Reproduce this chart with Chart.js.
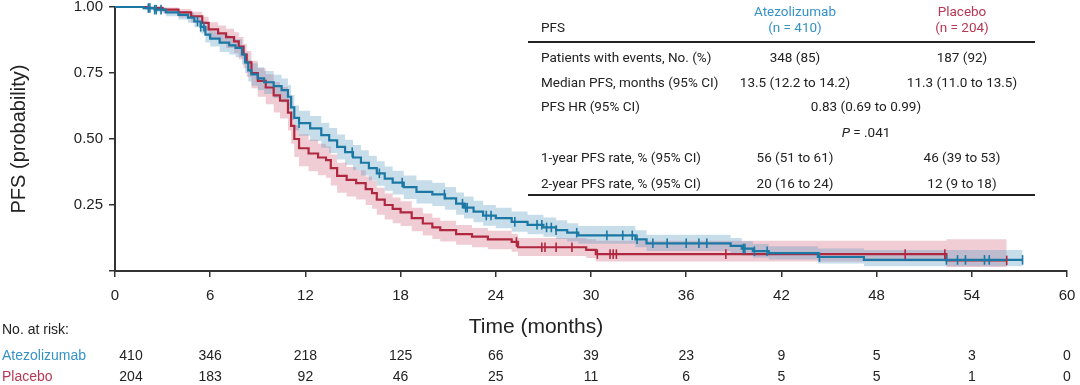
<!DOCTYPE html>
<html>
<head>
<meta charset="utf-8">
<script src="https://cdn.jsdelivr.net/npm/chart.js@4"></script>
<style>
html, body { margin: 0; padding: 0; background: #fff; }
#wrap { position: relative; width: 1080px; height: 385px; font-family: "Liberation Sans", Arial, sans-serif; color: #222; overflow: hidden; }
canvas { position: absolute; left: 0; top: 0; }
.t { position: absolute; white-space: nowrap; font-size: 14px; line-height: 16px; }
.c { transform: translateX(-50%); }
.tab { font-family: Roboto, "Liberation Sans", Arial, sans-serif; font-size: 13.5px; }
.big { font-size: 21px; line-height: 24px; }
.rule { position: absolute; height: 2px; background: #222; }
.blue { color: #3592c4; }
.red { color: #b63853; }
</style>
</head>
<body>
<div id="wrap"><canvas id="km" width="1080" height="385"></canvas></div>
<script>
// Kaplan-Meier PFS: Atezolizumab vs Placebo, with 95% CI bands, censor ticks and at-risk table.

const BLUE = '#1b78a4';
const RED = '#b0283f';
const BLUE_BAND = 'rgba(80,150,190,0.32)';
const RED_BAND = 'rgba(205,90,115,0.30)';

// step times (months) and survival after each step
const atezoT = [0, 1.8, 2.5, 3.2, 4.0, 4.6, 5.0, 5.4, 5.7, 6.0, 6.6, 7.2, 7.6, 8.0, 8.2, 8.4, 8.6, 9.0, 9.4, 10.0,
  10.5, 10.9, 11.1, 11.3, 11.6, 12.3, 13.0, 13.5, 14.0, 14.5, 15.0, 15.5, 16.0, 16.5, 17.0, 17.5, 18.2, 19.0, 20.0, 20.8,
  21.5, 22.0, 22.6, 23.2, 24.0, 25.0, 26.0, 27.0, 27.8, 28.5, 29.2, 32.8, 33.5, 38.8, 39.5, 40.2, 41.2, 44.3, 47.2, 57.2];
const atezoS = [1.0, 0.996, 0.99, 0.98, 0.97, 0.96, 0.945, 0.925, 0.895, 0.88, 0.865, 0.855, 0.845, 0.82, 0.79, 0.76, 0.745, 0.73, 0.715, 0.70,
  0.685, 0.66, 0.62, 0.58, 0.56, 0.54, 0.515, 0.495, 0.47, 0.45, 0.43, 0.41, 0.39, 0.37, 0.35, 0.335, 0.318, 0.30, 0.29, 0.275,
  0.255, 0.24, 0.225, 0.21, 0.20, 0.186, 0.175, 0.165, 0.155, 0.145, 0.135, 0.12, 0.105, 0.095, 0.085, 0.075, 0.068, 0.053, 0.042, 0.042];
const atezoLo = [1.0, 0.99, 0.98, 0.965, 0.953, 0.94, 0.923, 0.9, 0.866, 0.85, 0.83, 0.82, 0.81, 0.782, 0.75, 0.718, 0.702, 0.686, 0.67, 0.655,
  0.638, 0.612, 0.572, 0.532, 0.512, 0.492, 0.467, 0.447, 0.422, 0.402, 0.382, 0.362, 0.343, 0.323, 0.304, 0.29, 0.273, 0.256, 0.246, 0.232,
  0.213, 0.199, 0.185, 0.171, 0.162, 0.149, 0.139, 0.13, 0.121, 0.112, 0.103, 0.09, 0.076, 0.068, 0.059, 0.05, 0.044, 0.028, 0.018, 0.018];
const atezoHi = [1.0, 1.0, 0.998, 0.992, 0.985, 0.978, 0.965, 0.948, 0.922, 0.908, 0.895, 0.887, 0.878, 0.856, 0.828, 0.8, 0.787, 0.772, 0.758, 0.743,
  0.729, 0.705, 0.666, 0.627, 0.607, 0.587, 0.562, 0.542, 0.517, 0.497, 0.477, 0.457, 0.437, 0.416, 0.396, 0.38, 0.362, 0.344, 0.334, 0.318,
  0.297, 0.282, 0.266, 0.25, 0.24, 0.225, 0.213, 0.203, 0.192, 0.181, 0.17, 0.154, 0.137, 0.125, 0.113, 0.102, 0.094, 0.085, 0.08, 0.08];
const atezoCens = [2.1, 2.2, 2.5, 2.6, 2.9, 5.2, 5.4, 5.6, 11.6, 14.95, 16.66, 18.1, 20.76, 21.9, 22.1, 22.2, 23.4, 23.7, 25.2, 26.6,
  26.9, 27.2, 27.5, 27.8, 29.1, 31.0, 32.0, 32.6, 32.9, 33.9, 34.8, 36.0, 36.8, 37.3, 39.6, 39.7, 40.3, 41.1, 44.4, 52.4,
  53.1, 53.6, 54.8, 55.1, 57.2];

const placeboT = [0, 2.0, 3.0, 4.0, 4.8, 5.5, 5.9, 6.5, 7.0, 7.5, 7.8, 8.1, 8.3, 8.6, 9.0, 9.5, 10.0, 10.4, 10.9, 11.1,
  11.3, 11.6, 12.2, 12.8, 13.3, 13.6, 14.0, 14.6, 15.2, 15.8, 16.2, 16.5, 17.0, 17.5, 18.0, 18.7, 19.4, 20.0, 20.5, 21.5,
  22.5, 23.5, 25.0, 25.4, 29.7, 30.3, 52.4, 56.2];
const placeboS = [1.0, 0.997, 0.99, 0.98, 0.965, 0.94, 0.915, 0.90, 0.886, 0.87, 0.85, 0.82, 0.79, 0.75, 0.72, 0.695, 0.665, 0.645, 0.60, 0.55,
  0.50, 0.465, 0.445, 0.43, 0.42, 0.39, 0.36, 0.345, 0.333, 0.31, 0.295, 0.27, 0.25, 0.235, 0.222, 0.20, 0.18, 0.165, 0.155, 0.14,
  0.13, 0.12, 0.11, 0.09, 0.08, 0.064, 0.04, 0.04];
const placeboLo = [1.0, 0.99, 0.976, 0.96, 0.94, 0.91, 0.88, 0.862, 0.845, 0.825, 0.802, 0.768, 0.735, 0.692, 0.66, 0.632, 0.6, 0.578, 0.532, 0.482,
  0.432, 0.397, 0.378, 0.363, 0.353, 0.324, 0.296, 0.282, 0.271, 0.25, 0.236, 0.213, 0.195, 0.181, 0.17, 0.151, 0.134, 0.121, 0.112, 0.099,
  0.09, 0.082, 0.073, 0.057, 0.049, 0.036, 0.015, 0.015];
const placeboHi = [1.0, 1.0, 0.998, 0.992, 0.982, 0.963, 0.942, 0.93, 0.918, 0.904, 0.886, 0.86, 0.833, 0.796, 0.768, 0.745, 0.716, 0.698, 0.654, 0.605,
  0.553, 0.518, 0.497, 0.482, 0.472, 0.441, 0.41, 0.394, 0.382, 0.358, 0.342, 0.315, 0.294, 0.278, 0.264, 0.24, 0.218, 0.202, 0.19, 0.174,
  0.163, 0.152, 0.14, 0.125, 0.12, 0.115, 0.12, 0.12];
const placeboCens = [25.3, 26.9, 27.1, 27.8, 28.8, 30.4, 31.2, 31.4, 31.6, 38.5, 49.8, 52.3, 56.2];

const xTicks = [0, 6, 12, 18, 24, 30, 36, 42, 48, 54, 60];
const yTicks = [0, 0.25, 0.5, 0.75, 1.0];

// at-risk table
const riskTimes = [0, 6, 12, 18, 24, 30, 36, 42, 48, 54, 60];
const atezoRisk = [410, 346, 218, 125, 66, 39, 23, 9, 5, 3, 0];
const placeboRisk = [204, 183, 92, 46, 25, 11, 6, 5, 5, 1, 0];

// summary table
const tableHead = ['PFS', 'Atezolizumab', '(n = 410)', 'Placebo', '(n = 204)'];
const tableLabels = ['Patients with events, No. (%)', 'Median PFS, months (95% CI)', 'PFS HR (95% CI)', '',
  '1-year PFS rate, % (95% CI)', '2-year PFS rate, % (95% CI)'];
const tableAtezo = ['348 (85)', '13.5 (12.2 to 14.2)', null, null, '56 (51 to 61)', '20 (16 to 24)'];
const tablePlacebo = ['187 (92)', '11.3 (11.0 to 13.5)', null, null, '46 (39 to 53)', '12 (9 to 18)'];
const tableSpan = [null, null, '0.83 (0.69 to 0.99)', '<i>P</i> = .041', null, null];

const pts = (xs, ys) => xs.map((x, i) => ({ x, y: ys[i] }));
function survAt(ts, ss, t) {
  let v = ss[0];
  for (let i = 0; i < ts.length; i++) if (ts[i] <= t) v = ss[i];
  return v;
}
const censPts = (cs, ts, ss) => cs.map((t) => ({ x: t, y: survAt(ts, ss, t) }));

const bandSet = (data, color, fill, order) => ({
  data, stepped: true, borderWidth: 0, pointRadius: 0, backgroundColor: color, fill, order, clip: 6,
});
const lineSet = (data, color, order) => ({
  data, stepped: true, borderColor: color, borderWidth: 2.2, pointRadius: 0, fill: false, order, clip: 6,
});
const censSet = (data, color) => ({
  data, showLine: false, pointStyle: 'line', rotation: 90, pointRadius: 4.8, pointBorderWidth: 1.6,
  pointBorderColor: color, borderColor: color, order: 0, clip: 8,
});

const FONT = '"Liberation Sans", Arial, sans-serif';
Chart.defaults.font.family = FONT;
Chart.defaults.color = '#222';

const chart = new Chart(document.getElementById('km'), {
  type: 'line',
  data: {
    datasets: [
      bandSet(pts(placeboT, placeboHi), RED_BAND, '+1', 5),
      bandSet(pts(placeboT, placeboLo), 'transparent', false, 5),
      bandSet(pts(atezoT, atezoHi), BLUE_BAND, '+1', 4),
      bandSet(pts(atezoT, atezoLo), 'transparent', false, 4),
      lineSet(pts(placeboT, placeboS), RED, 2),
      lineSet(pts(atezoT, atezoS), BLUE, 1),
      censSet(censPts(placeboCens, placeboT, placeboS), RED),
      censSet(censPts(atezoCens, atezoT, atezoS), BLUE),
    ],
  },
  options: {
    responsive: false,
    animation: false,
    devicePixelRatio: 1,
    layout: { padding: { left: 0, top: 7, right: 13, bottom: 47 } },
    plugins: { legend: { display: false }, tooltip: { enabled: false } },
    scales: {
      x: {
        type: 'linear', min: 0, max: 60,
        afterBuildTicks: (s) => { s.ticks = xTicks.map((v) => ({ value: v })); },
        afterFit: (s) => { s.height = 67; s.paddingLeft = 0; s.paddingRight = 0; },
        ticks: { font: { size: 15 }, color: '#222', padding: 10, maxRotation: 0 },
        grid: { drawOnChartArea: false, drawTicks: true, tickLength: 6, color: '#333', lineWidth: 1.5 },
        border: { display: true, color: '#333', width: 2 },
      },
      y: {
        min: 0, max: 1,
        afterBuildTicks: (s) => { s.ticks = yTicks.map((v) => ({ value: v })); },
        afterFit: (s) => { s.width = 115; s.paddingTop = 0; s.paddingBottom = 0; },
        ticks: { font: { size: 15 }, color: '#222', padding: 6, callback: (v) => (v === 0 ? '' : v.toFixed(2)) },
        grid: { drawOnChartArea: false, drawTicks: true, tickLength: 6, color: '#333', lineWidth: 1.5 },
        border: { display: true, color: '#333', width: 2 },
        title: { display: true, text: 'PFS (probability)', font: { size: 20 }, color: '#222', padding: { top: 7, bottom: 0 } },
      },
    },
  },
});

// HTML text overlays
const wrap = document.getElementById('wrap');
function addText(html, x, y, cls, center) {
  const d = document.createElement('div');
  d.className = 't ' + (cls || '') + (center ? ' c' : '');
  d.innerHTML = html;
  d.style.left = x + 'px';
  d.style.top = (y - (cls && cls.includes('big') ? 12 : 8)) + 'px';
  wrap.appendChild(d);
}
function addRule(x1, x2, y) {
  const d = document.createElement('div');
  d.className = 'rule';
  d.style.left = x1 + 'px';
  d.style.width = (x2 - x1) + 'px';
  d.style.top = y + 'px';
  wrap.appendChild(d);
}

// summary table
const TL = 541, C1 = 795, C2 = 962, CS = 866, RULE_L = 528, RULE_R = 1035;
addText(tableHead[0], TL, 27, 'tab');
addText(tableHead[1], C1, 11, 'tab blue', true);
addText(tableHead[2], C1, 27, 'tab blue', true);
addText(tableHead[3], C2, 11, 'tab red', true);
addText(tableHead[4], C2, 27, 'tab red', true);
addRule(RULE_L, RULE_R, 41);
const rowY = [57, 82, 106, 132, 157, 183];
tableLabels.forEach((lab, i) => {
  if (lab) addText(lab, TL, rowY[i], 'tab');
  if (tableAtezo[i]) addText(tableAtezo[i], C1, rowY[i], 'tab', true);
  if (tablePlacebo[i]) addText(tablePlacebo[i], C2, rowY[i], 'tab', true);
  if (tableSpan[i]) addText(tableSpan[i], CS, rowY[i], 'tab', true);
});
addRule(RULE_L, RULE_R, 194);

// axis title and number at risk
const xs = chart.scales.x;
addText('Time (months)', 536, 326, 'big', true);
addText('No. at risk:', 2, 329);
addText('Atezolizumab', 2, 355, 'blue');
addText('Placebo', 2, 376, 'red');
riskTimes.forEach((t, i) => {
  const px = xs.getPixelForValue(t) + (i === 0 ? 16 : 0);
  addText(String(atezoRisk[i]), px, 355, '', true);
  addText(String(placeboRisk[i]), px, 376, '', true);
});
</script>
</body>
</html>
